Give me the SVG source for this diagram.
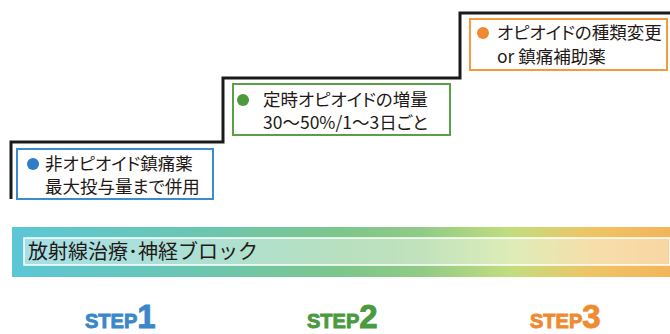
<svg xmlns="http://www.w3.org/2000/svg" width="670" height="334" viewBox="0 0 670 334">
<defs>
<linearGradient id="band" x1="0" y1="0" x2="1" y2="0">
<stop offset="0" stop-color="#5BC7D6"/>
<stop offset="0.3" stop-color="#6CC6AE"/>
<stop offset="0.5" stop-color="#7DC68B"/>
<stop offset="0.62" stop-color="#8FCB86"/>
<stop offset="0.76" stop-color="#C3DD7E"/>
<stop offset="0.88" stop-color="#EEC465"/>
<stop offset="1" stop-color="#F3B55A"/>
</linearGradient>
<style>
.t{font-family:"Noto Sans CJK JP","Noto Sans",sans-serif;font-size:17.5px;fill:#231815;font-feature-settings:"palt"}
.box{fill:#fff;stroke-width:2}
.step{font-family:"Liberation Sans",Arial,sans-serif;font-weight:bold;stroke-width:0.9}
.s{font-size:20px}
.n{font-size:33px}
</style>
</defs>
<g id="connectors">
<polyline points="11,199 11,142 223,142 223,78 460,78 460,13 670,13" fill="none" stroke="#1a1a1a" stroke-width="3"/>
</g>
<g id="step1-box">
<rect class="box" x="17" y="149" width="196" height="50" stroke="#3A8BCF"/>
<circle cx="33" cy="164" r="6" fill="#2F7DC8"/>
<text class="t" x="45" y="170">非オピオイド鎮痛薬</text>
<text class="t" x="45" y="193">最大投与量まで併用</text>
</g>
<g id="step2-box">
<rect class="box" x="233" y="84" width="217" height="51" stroke="#5AA045"/>
<circle cx="243" cy="100" r="6" fill="#4C9A3C"/>
<text class="t" x="263" y="106">定時オピオイドの増量</text>
<text class="t" x="263" y="129">30〜50%/1〜3日ごと</text>
</g>
<g id="step3-box">
<rect class="box" x="470" y="19" width="197" height="51" stroke="#F39A3A"/>
<circle cx="483" cy="33" r="6" fill="#F08A30"/>
<text class="t" x="497" y="39">オピオイドの種類変更</text>
<text class="t" x="497" y="63">or 鎮痛補助薬</text>
</g>
<g id="band-node">
<rect x="12" y="227" width="658" height="50" fill="url(#band)"/>
<rect x="24" y="238" width="646" height="27" fill="#fff" fill-opacity="0.45" stroke="#fff" stroke-width="1.5"/>
<text x="28" y="259" style="font-family:'Noto Sans CJK JP','Noto Sans',sans-serif;font-size:20px;fill:#231815">放射線治療･神経ブロック</text>
</g>
<g id="step1-label">
<text class="step" x="85" y="328" fill="#3A87CB" stroke="#3A87CB"><tspan class="s">STEP</tspan><tspan class="n">1</tspan></text>
</g>
<g id="step2-label">
<text class="step" x="307" y="328" fill="#4A9A3F" stroke="#4A9A3F"><tspan class="s">STEP</tspan><tspan class="n">2</tspan></text>
</g>
<g id="step3-label">
<text class="step" x="530" y="328" fill="#F08A30" stroke="#F08A30"><tspan class="s">STEP</tspan><tspan class="n">3</tspan></text>
</g>
</svg>
